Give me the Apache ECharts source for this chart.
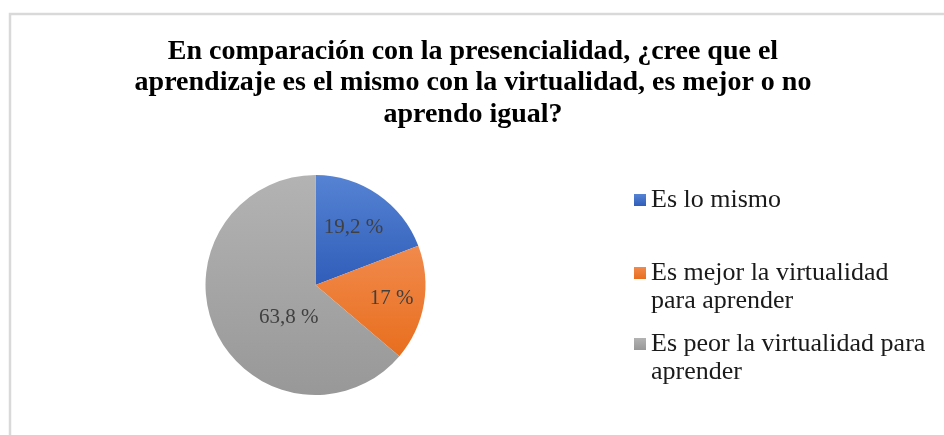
<!DOCTYPE html>
<html>
<head>
<meta charset="utf-8">
<script src="https://cdn.jsdelivr.net/npm/echarts@6/dist/echarts.min.js"></script>
<style>
    html, body { margin: 0; padding: 0; background: #fff; }
    #chart { width: 944px; height: 435px; }
</style>
</head>
<body>
<div id="chart"></div>
<script>
    // datos
    const categorias = ['Es lo mismo', 'Es mejor la virtualidad\npara aprender', 'Es peor la virtualidad para\naprender'];
    const porcentajes = [19.2, 17, 63.8];
    const etiquetas = ['19,2 %', '17 %', '63,8 %'];

    const colores = [
        ['#5683d3', '#2f5db9'],
        ['#f18a4c', '#e86e1e'],
        ['#b3b3b3', '#989898']
    ];
    // pequeño ajuste de las etiquetas (Excel las coloca "mejor ajuste")
    const ajusteEtiquetas = [[5, -10], [19, 4], [26, 8]];

    function degradado(c) {
        return new echarts.graphic.LinearGradient(0, 0, 0, 1, [
            {offset: 0, color: c[0]},
            {offset: 1, color: c[1]}
        ]);
    }

    const chart = echarts.init(document.getElementById('chart'));

    const leyendaBase = {
        orient: 'vertical',
        left: 634,
        padding: 0,
        itemWidth: 12,
        itemHeight: 12,
        icon: 'rect',
        selectedMode: false,
        textStyle: {
            fontFamily: 'Liberation Serif',
            fontSize: 26,
            lineHeight: 28,
            color: '#1a1a1a'
        }
    };
    const topsLeyenda = [186, 231, 302];

    chart.setOption({
        animation: false,
        graphic: [{
            type: 'rect',
            shape: {x: 10, y: 14, width: 1200, height: 1200},
            style: {fill: 'none', stroke: '#d9d9d9', lineWidth: 2.5},
            silent: true
        }],
        title: {
            text: 'En comparación con la presencialidad, ¿cree que el\naprendizaje es el mismo con la virtualidad, es mejor o no\naprendo igual?',
            left: 473,
            textAlign: 'center',
            top: 36,
            padding: 0,
            textStyle: {
                fontFamily: 'Liberation Serif',
                fontWeight: 'bold',
                fontSize: 28,
                lineHeight: 31.5,
                color: '#000'
            }
        },
        legend: categorias.map(function (nombre, i) {
            return Object.assign({}, leyendaBase, {
                top: topsLeyenda[i],
                data: [nombre],
                // una línea vacía arriba para que el cuadrito quede junto a la primera línea
                formatter: function (n) { return i === 0 ? n : '\n' + n; }
            });
        }),
        series: [{
            type: 'pie',
            center: [315.5, 285],
            radius: 110,
            startAngle: 90,
            clockwise: true,
            label: {
                show: true,
                position: 'inside',
                fontFamily: 'Liberation Serif',
                fontSize: 21,
                color: '#404040',
                formatter: function (p) { return etiquetas[p.dataIndex]; }
            },
            labelLayout: function (p) {
                return {dx: ajusteEtiquetas[p.dataIndex][0], dy: ajusteEtiquetas[p.dataIndex][1]};
            },
            labelLine: {show: false},
            emphasis: {disabled: true},
            data: categorias.map(function (nombre, i) {
                return {
                    name: nombre,
                    value: porcentajes[i],
                    itemStyle: {color: degradado(colores[i])}
                };
            })
        }]
    });
</script>
</body>
</html>
